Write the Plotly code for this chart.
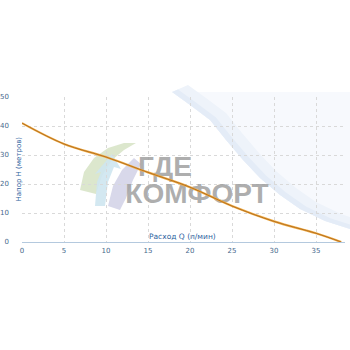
import plotly.graph_objects as go

# Data
flow_q = [0, 5, 10, 15, 20, 25, 30, 35, 38]
head_h = [41, 33.8, 29.3, 24.0, 18.9, 12.4, 7.1, 3.0, 0]
x_ticks = [0, 5, 10, 15, 20, 25, 30, 35]
y_ticks = [0, 10, 20, 30, 40, 50]
x_title = "Расход Q (л/мин)"
y_title = "Напор H (метров)"
wm_line1 = "ГДЕ"
wm_line2 = "КОМФОРТ"

# Layout geometry (pixels)
W, H = 350, 350
L, R, T, B = 22, 5, 97, 108
PW, PH = W - L - R, H - T - B
X_MAX = 38.45

def px(x, y):
    return (x - L) / PW, (H - B - y) / PH

def path(points):
    pts = [px(x, y) for x, y in points]
    return "M " + " L ".join(f"{a:.4f},{b:.4f}" for a, b in pts) + " Z"

def dat(x, y):
    return (x - L) / PW * X_MAX, (H - B - y) / PH * 50

fig = go.Figure()

# watermark text (below curve)
t1 = dat(165, 169)
t2 = dat(197, 196)
fig.add_trace(go.Scatter(x=[t1[0], t2[0]], y=[t1[1], t2[1]], mode="text",
                         text=[wm_line1, wm_line2], cliponaxis=False,
                         textfont=dict(family="Liberation Sans", size=28, color="rgba(160,160,160,0.85)",
                                       weight="bold"),
                         hoverinfo="skip", showlegend=False))

fig.add_trace(go.Scatter(x=flow_q, y=head_h, mode="lines", line=dict(shape="spline", color="#f0ae48", width=2.2),
                         hoverinfo="skip", showlegend=False))
fig.add_trace(go.Scatter(x=flow_q, y=head_h, mode="lines", line=dict(shape="spline", color="#b06a1c", width=0.9),
                         hoverinfo="skip", showlegend=False))

shapes = []
# blue wave decoration
edge = [(172, 92), (190, 105), (210, 120), (226, 140), (243, 160), (260, 178), (280, 195),
        (300, 209), (325, 221), (350, 229)]
wave = edge + [(350, 92)]
shapes.append(dict(type="path", xref="paper", yref="paper", path=path(wave), layer="below",
                   fillcolor="rgba(247,249,253,1)", line=dict(width=0)))
band = edge + [(p[0] + 16, p[1] - 7) for p in reversed(edge)]
shapes.append(dict(type="path", xref="paper", yref="paper", path=path(band), layer="below",
                   fillcolor="rgba(238,243,250,1)", line=dict(width=0)))
band2 = edge + [(p[0] + 6, p[1] - 2.5) for p in reversed(edge)]
shapes.append(dict(type="path", xref="paper", yref="paper", path=path(band2), layer="below",
                   fillcolor="rgba(228,236,247,1)", line=dict(width=0)))
# logo pieces
green = [(80, 190), (84, 172), (94, 158), (108, 148), (124, 143), (136, 143), (124, 150),
         (112, 160), (102, 176), (96, 194)]
shapes.append(dict(type="path", xref="paper", yref="paper", path=path(green), layer="below",
                   fillcolor="rgba(216,228,200,0.9)", line=dict(width=0)))
blue = [(95, 206), (97, 182), (101, 172), (95, 174), (112, 154), (121, 169), (114, 167),
        (108, 182), (105, 206)]
shapes.append(dict(type="path", xref="paper", yref="paper", path=path(blue), layer="below",
                   fillcolor="rgba(206,229,240,0.9)", line=dict(width=0)))
purple = [(108, 206), (113, 186), (122, 170), (134, 158), (141, 164), (133, 180), (126, 198), (120, 210)]
shapes.append(dict(type="path", xref="paper", yref="paper", path=path(purple), layer="below",
                   fillcolor="rgba(212,212,232,0.9)", line=dict(width=0)))

tick_font = dict(family="DejaVu Sans", size=7, color="#46698c")

fig.update_layout(
    width=W, height=H,
    margin=dict(l=L, r=R, t=T, b=B, autoexpand=False),
    paper_bgcolor="white", plot_bgcolor="rgba(0,0,0,0)",
    shapes=shapes,
    xaxis=dict(range=[0, X_MAX], tickvals=x_ticks, showgrid=True, gridcolor="#d9d9d9", griddash="dot",
               gridwidth=1, zeroline=False, showline=True, linecolor="#b4c9de", linewidth=1,
               ticks="", tickfont=tick_font, ticklabelstandoff=2, automargin=False),
    yaxis=dict(range=[0, 50], tickvals=y_ticks, showgrid=True, gridcolor="#d9d9d9", griddash="dot",
               gridwidth=1, zeroline=False, showline=False, ticks="", tickfont=tick_font,
               ticklabelstandoff=12, automargin=False),
    annotations=[
        dict(text=y_title, xref="paper", yref="paper", x=px(18, 0)[0], y=0.5, textangle=-90,
             showarrow=False, xanchor="center", yanchor="middle",
             font=dict(family="DejaVu Sans", size=7, color="#2d62a0")),
        dict(text=x_title, xref="paper", yref="paper", x=px(182, 0)[0], y=px(0, 236)[1],
             showarrow=False, xanchor="center", yanchor="middle",
             font=dict(family="DejaVu Sans", size=7.5, color="#2d62a0")),
    ],
)

fig.write_html("out.html")
